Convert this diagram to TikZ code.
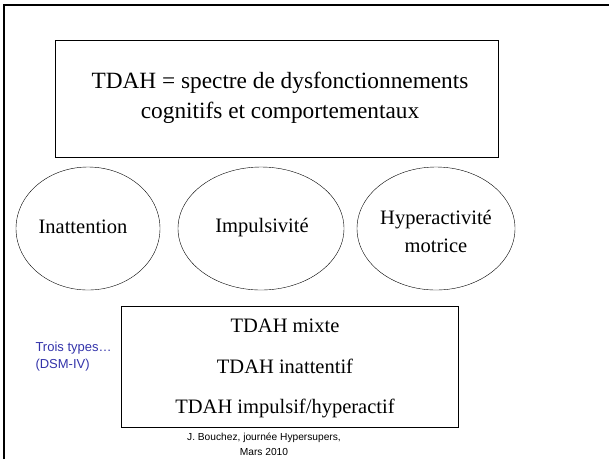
\documentclass[tikz,border=0pt]{standalone}
\usepackage{fontspec}
\setmainfont{Liberation Serif}
\setsansfont{Liberation Sans}
\definecolor{typeblue}{RGB}{51,51,170}
\begin{document}
\begin{tikzpicture}[x=1pt, y=-1pt,
	    bigtext/.style={font=\fontsize{20.5}{28}\selectfont, align=center},
	    titletext/.style={font=\fontsize{23.3}{30}\selectfont, align=center},
	    topbox/.style={draw, thin, minimum width=443pt, minimum height=117pt, inner sep=0pt},
	    typebox/.style={draw, thin, minimum width=337pt, minimum height=121pt, inner sep=0pt},
	    note/.style={font=\sffamily\fontsize{13}{17}\selectfont, text=typeblue, align=left},
	    credit/.style={font=\sffamily\fontsize{10.2}{15}\selectfont, align=center}]
		\useasboundingbox (0, 0) rectangle (609, 459);
		
	    % Draw slide frame
		\draw[black, line width=2pt] (4, 459) -- (4, 5) -- (609, 5);
		
		% Draw title box
		\node[topbox] (title) at (276.5, 98.5) {};
		\node[titletext] (titlelabel) at (280, 98) {TDAH = spectre de dysfonctionnements\\cognitifs et comportementaux};
		
		% Draw symptom ovals
		\draw[thin] (88, 228.5) ellipse (72 and 61.5);
		\draw[thin] (261, 228.5) ellipse (83 and 61.5);
		\draw[thin] (436, 228.5) ellipse (79 and 61.5);
		\node[bigtext] (inatt) at (83, 227) {Inattention};
		\node[bigtext] (impul) at (262, 228) {Impulsivité};
		\node[bigtext] (hyper) at (436, 231) {Hyperactivité\\motrice};
		
		% Draw types box
		\node[typebox] (types) at (289.5, 366.5) {};
		\node[bigtext] (mixte) at (285, 326) {TDAH mixte};
		\node[bigtext] (inattf) at (285, 366) {TDAH inattentif};
		\node[bigtext] (impulf) at (285, 408) {TDAH impulsif/hyperactif};
		
		% Side note and credit
		\node[note, anchor=west] (trois) at (32, 357) {Trois types…\\(DSM-IV)};
		\node[credit] (footer) at (264, 444) {J. Bouchez, journée Hypersupers,\\Mars 2010};
		
	\end{tikzpicture}
\end{document}
